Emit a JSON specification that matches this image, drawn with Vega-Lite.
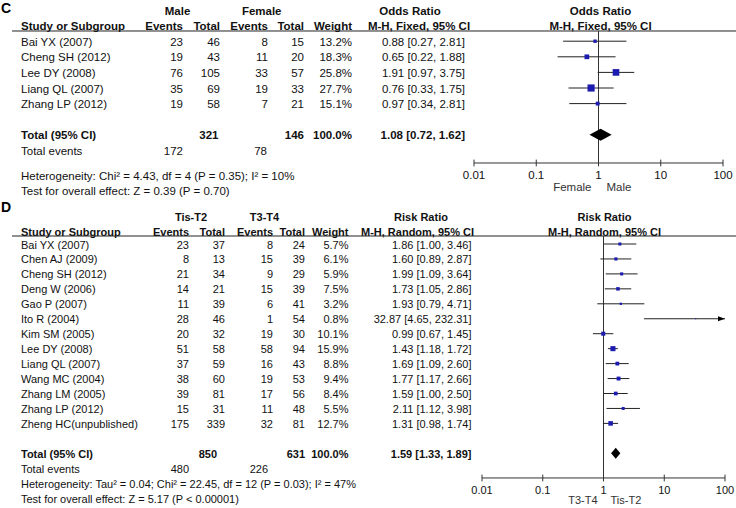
{
"$schema":"https://vega.github.io/schema/vega-lite/v6.json",
"width":736,"height":508,"padding":0,"autosize":{"type":"none"},
"background":"white",
"config":{"view":{"stroke":null},"text":{"font":"Liberation Sans","fontSize":11.5,"color":"#111111","baseline":"middle","dy":1.5},"rule":{"color":"#333333","strokeWidth":1}},
"datasets":{
"ticks":[{"v":0.01,"label":"0.01"},{"v":0.1,"label":"0.1"},{"v":1,"label":"1"},{"v":10,"label":"10"},{"v":100,"label":"100"}],
"blank":[{"k":1}],
"c_head":[{"text":"Male","col":3,"line":0},{"text":"Female","col":7,"line":0},{"text":"Odds Ratio","col":12,"line":0},{"text":"Study or Subgroup","col":2,"line":1},{"text":"Events","col":4,"line":1},{"text":"Total","col":6,"line":1},{"text":"Events","col":9,"line":1},{"text":"Total","col":10,"line":1},{"text":"Weight","col":11,"line":1},{"text":"M-H, Fixed, 95% CI","col":13,"line":1}],
"c_fhead":[{"text":"Odds Ratio","line":0},{"text":"M-H, Fixed, 95% CI","line":1}],
"c_rows":[
{"study":"Bai YX (2007)","line":2,"e1":23,"t1":46,"e2":8,"t2":15,"w":0.132,"est":0.88,"lo":0.27,"hi":2.81,"ci":"0.88 [0.27, 2.81]"},
{"study":"Cheng SH (2012)","line":3,"e1":19,"t1":43,"e2":11,"t2":20,"w":0.183,"est":0.65,"lo":0.22,"hi":1.88,"ci":"0.65 [0.22, 1.88]"},
{"study":"Lee DY (2008)","line":4,"e1":76,"t1":105,"e2":33,"t2":57,"w":0.258,"est":1.91,"lo":0.97,"hi":3.75,"ci":"1.91 [0.97, 3.75]"},
{"study":"Liang QL (2007)","line":5,"e1":35,"t1":69,"e2":19,"t2":33,"w":0.277,"est":0.76,"lo":0.33,"hi":1.75,"ci":"0.76 [0.33, 1.75]"},
{"study":"Zhang LP (2012)","line":6,"e1":19,"t1":58,"e2":7,"t2":21,"w":0.151,"est":0.97,"lo":0.34,"hi":2.81,"ci":"0.97 [0.34, 2.81]"}],
"c_total":[{"label":"Total (95% CI)","line":8,"t1":321,"t2":146,"w":1,"est":1.08,"lo":0.72,"hi":1.62,"ci":"1.08 [0.72, 1.62]"}],
"c_events":[{"label":"Total events","line":9,"ev1":172,"ev2":78}],
"c_notes":[{"text":"Heterogeneity: Chi² = 4.43, df = 4 (P = 0.35); I² = 10%","line":10},{"text":"Test for overall effect: Z = 0.39 (P = 0.70)","line":11}],
"d_head":[{"text":"Tis-T2","col":3,"line":0},{"text":"T3-T4","col":7,"line":0},{"text":"Risk Ratio","col":12,"line":0},{"text":"Study or Subgroup","col":2,"line":1},{"text":"Events","col":4,"line":1},{"text":"Total","col":6,"line":1},{"text":"Events","col":9,"line":1},{"text":"Total","col":10,"line":1},{"text":"Weight","col":11,"line":1},{"text":"M-H, Random, 95% CI","col":13,"line":1}],
"d_fhead":[{"text":"Risk Ratio","line":0},{"text":"M-H, Random, 95% CI","line":1}],
"d_rows":[
{"study":"Bai YX (2007)","line":2,"e1":23,"t1":37,"e2":8,"t2":24,"w":0.057,"est":1.86,"lo":1.00,"hi":3.46,"ci":"1.86 [1.00, 3.46]"},
{"study":"Chen AJ (2009)","line":3,"e1":8,"t1":13,"e2":15,"t2":39,"w":0.061,"est":1.60,"lo":0.89,"hi":2.87,"ci":"1.60 [0.89, 2.87]"},
{"study":"Cheng SH (2012)","line":4,"e1":21,"t1":34,"e2":9,"t2":29,"w":0.059,"est":1.99,"lo":1.09,"hi":3.64,"ci":"1.99 [1.09, 3.64]"},
{"study":"Deng W (2006)","line":5,"e1":14,"t1":21,"e2":15,"t2":39,"w":0.075,"est":1.73,"lo":1.05,"hi":2.86,"ci":"1.73 [1.05, 2.86]"},
{"study":"Gao P (2007)","line":6,"e1":11,"t1":39,"e2":6,"t2":41,"w":0.032,"est":1.93,"lo":0.79,"hi":4.71,"ci":"1.93 [0.79, 4.71]"},
{"study":"Ito R (2004)","line":7,"e1":28,"t1":46,"e2":1,"t2":54,"w":0.008,"est":32.87,"lo":4.65,"hi":232.31,"ci":"32.87 [4.65, 232.31]"},
{"study":"Kim SM (2005)","line":8,"e1":20,"t1":32,"e2":19,"t2":30,"w":0.101,"est":0.99,"lo":0.67,"hi":1.45,"ci":"0.99 [0.67, 1.45]"},
{"study":"Lee DY (2008)","line":9,"e1":51,"t1":58,"e2":58,"t2":94,"w":0.159,"est":1.43,"lo":1.18,"hi":1.72,"ci":"1.43 [1.18, 1.72]"},
{"study":"Liang QL (2007)","line":10,"e1":37,"t1":59,"e2":16,"t2":43,"w":0.088,"est":1.69,"lo":1.09,"hi":2.60,"ci":"1.69 [1.09, 2.60]"},
{"study":"Wang MC (2004)","line":11,"e1":38,"t1":60,"e2":19,"t2":53,"w":0.094,"est":1.77,"lo":1.17,"hi":2.66,"ci":"1.77 [1.17, 2.66]"},
{"study":"Zhang LM (2005)","line":12,"e1":39,"t1":81,"e2":17,"t2":56,"w":0.084,"est":1.59,"lo":1.00,"hi":2.50,"ci":"1.59 [1.00, 2.50]"},
{"study":"Zhang LP (2012)","line":13,"e1":15,"t1":31,"e2":11,"t2":48,"w":0.055,"est":2.11,"lo":1.12,"hi":3.98,"ci":"2.11 [1.12, 3.98]"},
{"study":"Zheng HC(unpublished)","line":14,"e1":175,"t1":339,"e2":32,"t2":81,"w":0.127,"est":1.31,"lo":0.98,"hi":1.74,"ci":"1.31 [0.98, 1.74]"}],
"d_total":[{"label":"Total (95% CI)","line":16,"t1":850,"t2":631,"w":1,"est":1.59,"lo":1.33,"hi":1.89,"ci":"1.59 [1.33, 1.89]"}],
"d_events":[{"label":"Total events","line":17,"ev1":480,"ev2":226}],
"d_notes":[{"text":"Heterogeneity: Tau² = 0.04; Chi² = 22.45, df = 12 (P = 0.03); I² = 47%","line":18},{"text":"Test for overall effect: Z = 5.17 (P < 0.00001)","line":19}]
},
"resolve":{"scale":{"x":"independent","y":"independent","size":"independent"}},
"layer":[
{"layer":[
{"data":{"values":[{"t":"C"}]},"mark":{"type":"text","align":"left","fontSize":14,"fontWeight":"bold","color":"#000"},"encoding":{"text":{"field":"t","type":"nominal"},"x":{"datum":0,"type":"quantitative","scale":{"domain":[0,1,2,3,4,5,6,7,8,9,10,11,12,13,14,15],"range":[1,12,21,177.5,183,218.5,220,261.7,267,268,304,352,410,419,465,736],"zero":false,"nice":false},"axis":null},"y":{"datum":-0.13,"type":"quantitative","scale":{"domain":[0,9,10,12],"range":[10,150.4,175,206.4],"zero":false,"nice":false},"axis":null}}},
{"data":{"name":"c_head"},"transform":[{"filter":"datum.col == 2"}],"mark":{"type":"text","align":"left","fontWeight":"bold"},"encoding":{"text":{"field":"text","type":"nominal"},"x":{"field":"col","type":"quantitative","scale":{"domain":[0,1,2,3,4,5,6,7,8,9,10,11,12,13,14,15],"range":[1,12,21,177.5,183,218.5,220,261.7,267,268,304,352,410,419,465,736],"zero":false,"nice":false},"axis":null},"y":{"field":"line","type":"quantitative","scale":{"domain":[0,9,10,12],"range":[10,150.4,175,206.4],"zero":false,"nice":false},"axis":null}}},
{"data":{"name":"c_head"},"transform":[{"filter":"datum.col == 3 || datum.col == 7 || datum.col >= 12"}],"mark":{"type":"text","align":"center","fontWeight":"bold"},"encoding":{"text":{"field":"text","type":"nominal"},"x":{"field":"col","type":"quantitative","scale":{"domain":[0,1,2,3,4,5,6,7,8,9,10,11,12,13,14,15],"range":[1,12,21,177.5,183,218.5,220,261.7,267,268,304,352,410,419,465,736],"zero":false,"nice":false},"axis":null},"y":{"field":"line","type":"quantitative","scale":{"domain":[0,9,10,12],"range":[10,150.4,175,206.4],"zero":false,"nice":false},"axis":null}}},
{"data":{"name":"c_head"},"transform":[{"filter":"datum.col == 4 || datum.col == 6 || (datum.col >= 9 && datum.col <= 11)"}],"mark":{"type":"text","align":"right","fontWeight":"bold"},"encoding":{"text":{"field":"text","type":"nominal"},"x":{"field":"col","type":"quantitative","scale":{"domain":[0,1,2,3,4,5,6,7,8,9,10,11,12,13,14,15],"range":[1,12,21,177.5,183,218.5,220,261.7,267,268,304,352,410,419,465,736],"zero":false,"nice":false},"axis":null},"y":{"field":"line","type":"quantitative","scale":{"domain":[0,9,10,12],"range":[10,150.4,175,206.4],"zero":false,"nice":false},"axis":null}}},
{"data":{"name":"c_rows"},"mark":{"type":"text","align":"left"},"encoding":{"text":{"field":"study","type":"nominal"},"x":{"datum":2,"type":"quantitative","scale":{"domain":[0,1,2,3,4,5,6,7,8,9,10,11,12,13,14,15],"range":[1,12,21,177.5,183,218.5,220,261.7,267,268,304,352,410,419,465,736],"zero":false,"nice":false},"axis":null},"y":{"field":"line","type":"quantitative","scale":{"domain":[0,9,10,12],"range":[10,150.4,175,206.4],"zero":false,"nice":false},"axis":null}}},
{"data":{"name":"c_rows"},"mark":{"type":"text","align":"right"},"encoding":{"text":{"field":"e1","type":"quantitative","format":"d"},"x":{"datum":4,"type":"quantitative","scale":{"domain":[0,1,2,3,4,5,6,7,8,9,10,11,12,13,14,15],"range":[1,12,21,177.5,183,218.5,220,261.7,267,268,304,352,410,419,465,736],"zero":false,"nice":false},"axis":null},"y":{"field":"line","type":"quantitative","scale":{"domain":[0,9,10,12],"range":[10,150.4,175,206.4],"zero":false,"nice":false},"axis":null}}},
{"data":{"name":"c_rows"},"mark":{"type":"text","align":"right"},"encoding":{"text":{"field":"t1","type":"quantitative","format":"d"},"x":{"datum":6,"type":"quantitative","scale":{"domain":[0,1,2,3,4,5,6,7,8,9,10,11,12,13,14,15],"range":[1,12,21,177.5,183,218.5,220,261.7,267,268,304,352,410,419,465,736],"zero":false,"nice":false},"axis":null},"y":{"field":"line","type":"quantitative","scale":{"domain":[0,9,10,12],"range":[10,150.4,175,206.4],"zero":false,"nice":false},"axis":null}}},
{"data":{"name":"c_rows"},"mark":{"type":"text","align":"right"},"encoding":{"text":{"field":"e2","type":"quantitative","format":"d"},"x":{"datum":9,"type":"quantitative","scale":{"domain":[0,1,2,3,4,5,6,7,8,9,10,11,12,13,14,15],"range":[1,12,21,177.5,183,218.5,220,261.7,267,268,304,352,410,419,465,736],"zero":false,"nice":false},"axis":null},"y":{"field":"line","type":"quantitative","scale":{"domain":[0,9,10,12],"range":[10,150.4,175,206.4],"zero":false,"nice":false},"axis":null}}},
{"data":{"name":"c_rows"},"mark":{"type":"text","align":"right"},"encoding":{"text":{"field":"t2","type":"quantitative","format":"d"},"x":{"datum":10,"type":"quantitative","scale":{"domain":[0,1,2,3,4,5,6,7,8,9,10,11,12,13,14,15],"range":[1,12,21,177.5,183,218.5,220,261.7,267,268,304,352,410,419,465,736],"zero":false,"nice":false},"axis":null},"y":{"field":"line","type":"quantitative","scale":{"domain":[0,9,10,12],"range":[10,150.4,175,206.4],"zero":false,"nice":false},"axis":null}}},
{"data":{"name":"c_rows"},"mark":{"type":"text","align":"right"},"encoding":{"text":{"field":"w","type":"quantitative","format":".1%"},"x":{"datum":11,"type":"quantitative","scale":{"domain":[0,1,2,3,4,5,6,7,8,9,10,11,12,13,14,15],"range":[1,12,21,177.5,183,218.5,220,261.7,267,268,304,352,410,419,465,736],"zero":false,"nice":false},"axis":null},"y":{"field":"line","type":"quantitative","scale":{"domain":[0,9,10,12],"range":[10,150.4,175,206.4],"zero":false,"nice":false},"axis":null}}},
{"data":{"name":"c_rows"},"mark":{"type":"text","align":"right"},"encoding":{"text":{"field":"ci","type":"nominal"},"x":{"datum":14,"type":"quantitative","scale":{"domain":[0,1,2,3,4,5,6,7,8,9,10,11,12,13,14,15],"range":[1,12,21,177.5,183,218.5,220,261.7,267,268,304,352,410,419,465,736],"zero":false,"nice":false},"axis":null},"y":{"field":"line","type":"quantitative","scale":{"domain":[0,9,10,12],"range":[10,150.4,175,206.4],"zero":false,"nice":false},"axis":null}}},
{"data":{"name":"c_total"},"mark":{"type":"text","align":"left","fontWeight":"bold"},"encoding":{"text":{"field":"label","type":"nominal"},"x":{"datum":2,"type":"quantitative","scale":{"domain":[0,1,2,3,4,5,6,7,8,9,10,11,12,13,14,15],"range":[1,12,21,177.5,183,218.5,220,261.7,267,268,304,352,410,419,465,736],"zero":false,"nice":false},"axis":null},"y":{"field":"line","type":"quantitative","scale":{"domain":[0,9,10,12],"range":[10,150.4,175,206.4],"zero":false,"nice":false},"axis":null}}},
{"data":{"name":"c_total"},"mark":{"type":"text","align":"right","fontWeight":"bold"},"encoding":{"text":{"field":"t1","type":"quantitative","format":"d"},"x":{"datum":5,"type":"quantitative","scale":{"domain":[0,1,2,3,4,5,6,7,8,9,10,11,12,13,14,15],"range":[1,12,21,177.5,183,218.5,220,261.7,267,268,304,352,410,419,465,736],"zero":false,"nice":false},"axis":null},"y":{"field":"line","type":"quantitative","scale":{"domain":[0,9,10,12],"range":[10,150.4,175,206.4],"zero":false,"nice":false},"axis":null}}},
{"data":{"name":"c_total"},"mark":{"type":"text","align":"right","fontWeight":"bold"},"encoding":{"text":{"field":"t2","type":"quantitative","format":"d"},"x":{"datum":10,"type":"quantitative","scale":{"domain":[0,1,2,3,4,5,6,7,8,9,10,11,12,13,14,15],"range":[1,12,21,177.5,183,218.5,220,261.7,267,268,304,352,410,419,465,736],"zero":false,"nice":false},"axis":null},"y":{"field":"line","type":"quantitative","scale":{"domain":[0,9,10,12],"range":[10,150.4,175,206.4],"zero":false,"nice":false},"axis":null}}},
{"data":{"name":"c_total"},"mark":{"type":"text","align":"right","fontWeight":"bold"},"encoding":{"text":{"field":"w","type":"quantitative","format":".1%"},"x":{"datum":11,"type":"quantitative","scale":{"domain":[0,1,2,3,4,5,6,7,8,9,10,11,12,13,14,15],"range":[1,12,21,177.5,183,218.5,220,261.7,267,268,304,352,410,419,465,736],"zero":false,"nice":false},"axis":null},"y":{"field":"line","type":"quantitative","scale":{"domain":[0,9,10,12],"range":[10,150.4,175,206.4],"zero":false,"nice":false},"axis":null}}},
{"data":{"name":"c_total"},"mark":{"type":"text","align":"right","fontWeight":"bold"},"encoding":{"text":{"field":"ci","type":"nominal"},"x":{"datum":14,"type":"quantitative","scale":{"domain":[0,1,2,3,4,5,6,7,8,9,10,11,12,13,14,15],"range":[1,12,21,177.5,183,218.5,220,261.7,267,268,304,352,410,419,465,736],"zero":false,"nice":false},"axis":null},"y":{"field":"line","type":"quantitative","scale":{"domain":[0,9,10,12],"range":[10,150.4,175,206.4],"zero":false,"nice":false},"axis":null}}},
{"data":{"name":"c_events"},"mark":{"type":"text","align":"left"},"encoding":{"text":{"field":"label","type":"nominal"},"x":{"datum":2,"type":"quantitative","scale":{"domain":[0,1,2,3,4,5,6,7,8,9,10,11,12,13,14,15],"range":[1,12,21,177.5,183,218.5,220,261.7,267,268,304,352,410,419,465,736],"zero":false,"nice":false},"axis":null},"y":{"field":"line","type":"quantitative","scale":{"domain":[0,9,10,12],"range":[10,150.4,175,206.4],"zero":false,"nice":false},"axis":null}}},
{"data":{"name":"c_events"},"mark":{"type":"text","align":"right"},"encoding":{"text":{"field":"ev1","type":"quantitative","format":"d"},"x":{"datum":4,"type":"quantitative","scale":{"domain":[0,1,2,3,4,5,6,7,8,9,10,11,12,13,14,15],"range":[1,12,21,177.5,183,218.5,220,261.7,267,268,304,352,410,419,465,736],"zero":false,"nice":false},"axis":null},"y":{"field":"line","type":"quantitative","scale":{"domain":[0,9,10,12],"range":[10,150.4,175,206.4],"zero":false,"nice":false},"axis":null}}},
{"data":{"name":"c_events"},"mark":{"type":"text","align":"right"},"encoding":{"text":{"field":"ev2","type":"quantitative","format":"d"},"x":{"datum":8,"type":"quantitative","scale":{"domain":[0,1,2,3,4,5,6,7,8,9,10,11,12,13,14,15],"range":[1,12,21,177.5,183,218.5,220,261.7,267,268,304,352,410,419,465,736],"zero":false,"nice":false},"axis":null},"y":{"field":"line","type":"quantitative","scale":{"domain":[0,9,10,12],"range":[10,150.4,175,206.4],"zero":false,"nice":false},"axis":null}}},
{"data":{"name":"c_notes"},"mark":{"type":"text","align":"left"},"encoding":{"text":{"field":"text","type":"nominal"},"x":{"datum":2,"type":"quantitative","scale":{"domain":[0,1,2,3,4,5,6,7,8,9,10,11,12,13,14,15],"range":[1,12,21,177.5,183,218.5,220,261.7,267,268,304,352,410,419,465,736],"zero":false,"nice":false},"axis":null},"y":{"field":"line","type":"quantitative","scale":{"domain":[0,9,10,12],"range":[10,150.4,175,206.4],"zero":false,"nice":false},"axis":null}}},
{"data":{"name":"blank"},"mark":{"type":"rule","color":"#222"},"encoding":{"x":{"datum":1,"type":"quantitative","scale":{"domain":[0,1,2,3,4,5,6,7,8,9,10,11,12,13,14,15],"range":[1,12,21,177.5,183,218.5,220,261.7,267,268,304,352,410,419,465,736],"zero":false,"nice":false},"axis":null},"x2":{"datum":15},"y":{"datum":1.346,"type":"quantitative","scale":{"domain":[0,9,10,12],"range":[10,150.4,175,206.4],"zero":false,"nice":false},"axis":null}}}
]},
{"layer":[
{"data":{"name":"blank"},"mark":{"type":"rule","color":"#333"},"encoding":{"x":{"datum":1,"type":"quantitative","scale":{"type":"log","domain":[0.01,100],"range":[474,723],"clamp":true,"nice":false},"axis":null},"y":{"datum":1.346,"type":"quantitative","scale":{"domain":[0,9,10,12],"range":[10,150.4,175,206.4],"zero":false,"nice":false},"axis":null},"y2":{"datum":9.512}}},
{"data":{"name":"c_rows"},"mark":{"type":"rule","color":"#222"},"encoding":{"x":{"field":"lo","type":"quantitative","scale":{"type":"log","domain":[0.01,100],"range":[474,723],"clamp":true,"nice":false},"axis":null},"x2":{"field":"hi"},"y":{"field":"line","type":"quantitative","scale":{"domain":[0,9,10,12],"range":[10,150.4,175,206.4],"zero":false,"nice":false},"axis":null}}},
{"data":{"name":"c_rows"},"mark":{"type":"point","shape":"square","filled":true,"color":"#1c1cb0","opacity":1},"encoding":{"x":{"field":"est","type":"quantitative","scale":{"type":"log","domain":[0.01,100],"range":[474,723],"clamp":true,"nice":false},"axis":null},"y":{"field":"line","type":"quantitative","scale":{"domain":[0,9,10,12],"range":[10,150.4,175,206.4],"zero":false,"nice":false},"axis":null},"size":{"field":"w","type":"quantitative","scale":{"type":"pow","exponent":2,"domain":[0,0.3],"range":[0,60]},"legend":null}}},
{"data":{"name":"c_total"},"mark":{"type":"point","shape":"M-1,0L0,-0.54L1,0L0,0.54Z","filled":true,"color":"#000","opacity":1,"size":493},"encoding":{"x":{"field":"est","type":"quantitative","scale":{"type":"log","domain":[0.01,100],"range":[474,723],"clamp":true,"nice":false},"axis":null},"y":{"field":"line","type":"quantitative","scale":{"domain":[0,9,10,12],"range":[10,150.4,175,206.4],"zero":false,"nice":false},"axis":null}}},
{"data":{"name":"blank"},"mark":{"type":"rule","color":"#333"},"encoding":{"x":{"datum":0.01,"type":"quantitative","scale":{"type":"log","domain":[0.01,100],"range":[474,723],"clamp":true,"nice":false},"axis":null},"x2":{"datum":100},"y":{"datum":9.512,"type":"quantitative","scale":{"domain":[0,9,10,12],"range":[10,150.4,175,206.4],"zero":false,"nice":false},"axis":null}}},
{"data":{"name":"ticks"},"mark":{"type":"rule","color":"#333"},"encoding":{"x":{"field":"v","type":"quantitative","scale":{"type":"log","domain":[0.01,100],"range":[474,723],"clamp":true,"nice":false},"axis":null},"y":{"datum":9.374,"type":"quantitative","scale":{"domain":[0,9,10,12],"range":[10,150.4,175,206.4],"zero":false,"nice":false},"axis":null},"y2":{"datum":9.65}}},
{"data":{"name":"ticks"},"mark":{"type":"text","align":"center"},"encoding":{"text":{"field":"label","type":"nominal"},"x":{"field":"v","type":"quantitative","scale":{"type":"log","domain":[0.01,100],"range":[474,723],"clamp":true,"nice":false},"axis":null},"y":{"datum":9.98,"type":"quantitative","scale":{"domain":[0,9,10,12],"range":[10,150.4,175,206.4],"zero":false,"nice":false},"axis":null}}},
{"data":{"name":"blank"},"mark":{"type":"text","align":"right","dx":-7,"text":"Female","color":"#333"},"encoding":{"x":{"datum":1,"type":"quantitative","scale":{"type":"log","domain":[0.01,100],"range":[474,723],"clamp":true,"nice":false},"axis":null},"y":{"datum":10.745,"type":"quantitative","scale":{"domain":[0,9,10,12],"range":[10,150.4,175,206.4],"zero":false,"nice":false},"axis":null}}},
{"data":{"name":"blank"},"mark":{"type":"text","align":"left","dx":8,"text":"Male","color":"#333"},"encoding":{"x":{"datum":1,"type":"quantitative","scale":{"type":"log","domain":[0.01,100],"range":[474,723],"clamp":true,"nice":false},"axis":null},"y":{"datum":10.745,"type":"quantitative","scale":{"domain":[0,9,10,12],"range":[10,150.4,175,206.4],"zero":false,"nice":false},"axis":null}}},
{"data":{"name":"c_fhead"},"mark":{"type":"text","align":"center","dx":2,"fontWeight":"bold"},"encoding":{"text":{"field":"text","type":"nominal"},"x":{"datum":1,"type":"quantitative","scale":{"type":"log","domain":[0.01,100],"range":[474,723],"clamp":true,"nice":false},"axis":null},"y":{"field":"line","type":"quantitative","scale":{"domain":[0,9,10,12],"range":[10,150.4,175,206.4],"zero":false,"nice":false},"axis":null}}}
]},
{"layer":[
{"data":{"values":[{"t":"D"}]},"mark":{"type":"text","align":"left","fontSize":14,"fontWeight":"bold","color":"#000"},"encoding":{"text":{"field":"t","type":"nominal"},"x":{"datum":0,"type":"quantitative","scale":{"domain":[0,1,2,3,4,5,6,7,8,9,10,11,12,13,14,15],"range":[1,12,21,191,189,217,225,264.5,268,273,305,348.5,421,417.5,471.5,736],"zero":false,"nice":false},"axis":null},"y":{"datum":-0.645,"type":"quantitative","scale":{"domain":[0,1,2,19],"range":[216,231.5,244,498.15],"zero":false,"nice":false},"axis":null}}},
{"data":{"name":"d_head"},"transform":[{"filter":"datum.col == 2"}],"mark":{"type":"text","align":"left","fontWeight":"bold","fontSize":11},"encoding":{"text":{"field":"text","type":"nominal"},"x":{"field":"col","type":"quantitative","scale":{"domain":[0,1,2,3,4,5,6,7,8,9,10,11,12,13,14,15],"range":[1,12,21,191,189,217,225,264.5,268,273,305,348.5,421,417.5,471.5,736],"zero":false,"nice":false},"axis":null},"y":{"field":"line","type":"quantitative","scale":{"domain":[0,1,2,19],"range":[216,231.5,244,498.15],"zero":false,"nice":false},"axis":null}}},
{"data":{"name":"d_head"},"transform":[{"filter":"datum.col == 3 || datum.col == 7 || datum.col >= 12"}],"mark":{"type":"text","align":"center","fontWeight":"bold","fontSize":11},"encoding":{"text":{"field":"text","type":"nominal"},"x":{"field":"col","type":"quantitative","scale":{"domain":[0,1,2,3,4,5,6,7,8,9,10,11,12,13,14,15],"range":[1,12,21,191,189,217,225,264.5,268,273,305,348.5,421,417.5,471.5,736],"zero":false,"nice":false},"axis":null},"y":{"field":"line","type":"quantitative","scale":{"domain":[0,1,2,19],"range":[216,231.5,244,498.15],"zero":false,"nice":false},"axis":null}}},
{"data":{"name":"d_head"},"transform":[{"filter":"datum.col == 4 || datum.col == 6 || (datum.col >= 9 && datum.col <= 11)"}],"mark":{"type":"text","align":"right","fontWeight":"bold","fontSize":11},"encoding":{"text":{"field":"text","type":"nominal"},"x":{"field":"col","type":"quantitative","scale":{"domain":[0,1,2,3,4,5,6,7,8,9,10,11,12,13,14,15],"range":[1,12,21,191,189,217,225,264.5,268,273,305,348.5,421,417.5,471.5,736],"zero":false,"nice":false},"axis":null},"y":{"field":"line","type":"quantitative","scale":{"domain":[0,1,2,19],"range":[216,231.5,244,498.15],"zero":false,"nice":false},"axis":null}}},
{"data":{"name":"d_rows"},"mark":{"type":"text","align":"left","fontSize":11},"encoding":{"text":{"field":"study","type":"nominal"},"x":{"datum":2,"type":"quantitative","scale":{"domain":[0,1,2,3,4,5,6,7,8,9,10,11,12,13,14,15],"range":[1,12,21,191,189,217,225,264.5,268,273,305,348.5,421,417.5,471.5,736],"zero":false,"nice":false},"axis":null},"y":{"field":"line","type":"quantitative","scale":{"domain":[0,1,2,19],"range":[216,231.5,244,498.15],"zero":false,"nice":false},"axis":null}}},
{"data":{"name":"d_rows"},"mark":{"type":"text","align":"right","fontSize":11},"encoding":{"text":{"field":"e1","type":"quantitative","format":"d"},"x":{"datum":4,"type":"quantitative","scale":{"domain":[0,1,2,3,4,5,6,7,8,9,10,11,12,13,14,15],"range":[1,12,21,191,189,217,225,264.5,268,273,305,348.5,421,417.5,471.5,736],"zero":false,"nice":false},"axis":null},"y":{"field":"line","type":"quantitative","scale":{"domain":[0,1,2,19],"range":[216,231.5,244,498.15],"zero":false,"nice":false},"axis":null}}},
{"data":{"name":"d_rows"},"mark":{"type":"text","align":"right","fontSize":11},"encoding":{"text":{"field":"t1","type":"quantitative","format":"d"},"x":{"datum":6,"type":"quantitative","scale":{"domain":[0,1,2,3,4,5,6,7,8,9,10,11,12,13,14,15],"range":[1,12,21,191,189,217,225,264.5,268,273,305,348.5,421,417.5,471.5,736],"zero":false,"nice":false},"axis":null},"y":{"field":"line","type":"quantitative","scale":{"domain":[0,1,2,19],"range":[216,231.5,244,498.15],"zero":false,"nice":false},"axis":null}}},
{"data":{"name":"d_rows"},"mark":{"type":"text","align":"right","fontSize":11},"encoding":{"text":{"field":"e2","type":"quantitative","format":"d"},"x":{"datum":9,"type":"quantitative","scale":{"domain":[0,1,2,3,4,5,6,7,8,9,10,11,12,13,14,15],"range":[1,12,21,191,189,217,225,264.5,268,273,305,348.5,421,417.5,471.5,736],"zero":false,"nice":false},"axis":null},"y":{"field":"line","type":"quantitative","scale":{"domain":[0,1,2,19],"range":[216,231.5,244,498.15],"zero":false,"nice":false},"axis":null}}},
{"data":{"name":"d_rows"},"mark":{"type":"text","align":"right","fontSize":11},"encoding":{"text":{"field":"t2","type":"quantitative","format":"d"},"x":{"datum":10,"type":"quantitative","scale":{"domain":[0,1,2,3,4,5,6,7,8,9,10,11,12,13,14,15],"range":[1,12,21,191,189,217,225,264.5,268,273,305,348.5,421,417.5,471.5,736],"zero":false,"nice":false},"axis":null},"y":{"field":"line","type":"quantitative","scale":{"domain":[0,1,2,19],"range":[216,231.5,244,498.15],"zero":false,"nice":false},"axis":null}}},
{"data":{"name":"d_rows"},"mark":{"type":"text","align":"right","fontSize":11},"encoding":{"text":{"field":"w","type":"quantitative","format":".1%"},"x":{"datum":11,"type":"quantitative","scale":{"domain":[0,1,2,3,4,5,6,7,8,9,10,11,12,13,14,15],"range":[1,12,21,191,189,217,225,264.5,268,273,305,348.5,421,417.5,471.5,736],"zero":false,"nice":false},"axis":null},"y":{"field":"line","type":"quantitative","scale":{"domain":[0,1,2,19],"range":[216,231.5,244,498.15],"zero":false,"nice":false},"axis":null}}},
{"data":{"name":"d_rows"},"mark":{"type":"text","align":"right","fontSize":11},"encoding":{"text":{"field":"ci","type":"nominal"},"x":{"datum":14,"type":"quantitative","scale":{"domain":[0,1,2,3,4,5,6,7,8,9,10,11,12,13,14,15],"range":[1,12,21,191,189,217,225,264.5,268,273,305,348.5,421,417.5,471.5,736],"zero":false,"nice":false},"axis":null},"y":{"field":"line","type":"quantitative","scale":{"domain":[0,1,2,19],"range":[216,231.5,244,498.15],"zero":false,"nice":false},"axis":null}}},
{"data":{"name":"d_total"},"mark":{"type":"text","align":"left","fontWeight":"bold","fontSize":11},"encoding":{"text":{"field":"label","type":"nominal"},"x":{"datum":2,"type":"quantitative","scale":{"domain":[0,1,2,3,4,5,6,7,8,9,10,11,12,13,14,15],"range":[1,12,21,191,189,217,225,264.5,268,273,305,348.5,421,417.5,471.5,736],"zero":false,"nice":false},"axis":null},"y":{"field":"line","type":"quantitative","scale":{"domain":[0,1,2,19],"range":[216,231.5,244,498.15],"zero":false,"nice":false},"axis":null}}},
{"data":{"name":"d_total"},"mark":{"type":"text","align":"right","fontWeight":"bold","fontSize":11},"encoding":{"text":{"field":"t1","type":"quantitative","format":"d"},"x":{"datum":5,"type":"quantitative","scale":{"domain":[0,1,2,3,4,5,6,7,8,9,10,11,12,13,14,15],"range":[1,12,21,191,189,217,225,264.5,268,273,305,348.5,421,417.5,471.5,736],"zero":false,"nice":false},"axis":null},"y":{"field":"line","type":"quantitative","scale":{"domain":[0,1,2,19],"range":[216,231.5,244,498.15],"zero":false,"nice":false},"axis":null}}},
{"data":{"name":"d_total"},"mark":{"type":"text","align":"right","fontWeight":"bold","fontSize":11},"encoding":{"text":{"field":"t2","type":"quantitative","format":"d"},"x":{"datum":10,"type":"quantitative","scale":{"domain":[0,1,2,3,4,5,6,7,8,9,10,11,12,13,14,15],"range":[1,12,21,191,189,217,225,264.5,268,273,305,348.5,421,417.5,471.5,736],"zero":false,"nice":false},"axis":null},"y":{"field":"line","type":"quantitative","scale":{"domain":[0,1,2,19],"range":[216,231.5,244,498.15],"zero":false,"nice":false},"axis":null}}},
{"data":{"name":"d_total"},"mark":{"type":"text","align":"right","fontWeight":"bold","fontSize":11},"encoding":{"text":{"field":"w","type":"quantitative","format":".1%"},"x":{"datum":11,"type":"quantitative","scale":{"domain":[0,1,2,3,4,5,6,7,8,9,10,11,12,13,14,15],"range":[1,12,21,191,189,217,225,264.5,268,273,305,348.5,421,417.5,471.5,736],"zero":false,"nice":false},"axis":null},"y":{"field":"line","type":"quantitative","scale":{"domain":[0,1,2,19],"range":[216,231.5,244,498.15],"zero":false,"nice":false},"axis":null}}},
{"data":{"name":"d_total"},"mark":{"type":"text","align":"right","fontWeight":"bold","fontSize":11},"encoding":{"text":{"field":"ci","type":"nominal"},"x":{"datum":14,"type":"quantitative","scale":{"domain":[0,1,2,3,4,5,6,7,8,9,10,11,12,13,14,15],"range":[1,12,21,191,189,217,225,264.5,268,273,305,348.5,421,417.5,471.5,736],"zero":false,"nice":false},"axis":null},"y":{"field":"line","type":"quantitative","scale":{"domain":[0,1,2,19],"range":[216,231.5,244,498.15],"zero":false,"nice":false},"axis":null}}},
{"data":{"name":"d_events"},"mark":{"type":"text","align":"left","fontSize":11},"encoding":{"text":{"field":"label","type":"nominal"},"x":{"datum":2,"type":"quantitative","scale":{"domain":[0,1,2,3,4,5,6,7,8,9,10,11,12,13,14,15],"range":[1,12,21,191,189,217,225,264.5,268,273,305,348.5,421,417.5,471.5,736],"zero":false,"nice":false},"axis":null},"y":{"field":"line","type":"quantitative","scale":{"domain":[0,1,2,19],"range":[216,231.5,244,498.15],"zero":false,"nice":false},"axis":null}}},
{"data":{"name":"d_events"},"mark":{"type":"text","align":"right","fontSize":11},"encoding":{"text":{"field":"ev1","type":"quantitative","format":"d"},"x":{"datum":4,"type":"quantitative","scale":{"domain":[0,1,2,3,4,5,6,7,8,9,10,11,12,13,14,15],"range":[1,12,21,191,189,217,225,264.5,268,273,305,348.5,421,417.5,471.5,736],"zero":false,"nice":false},"axis":null},"y":{"field":"line","type":"quantitative","scale":{"domain":[0,1,2,19],"range":[216,231.5,244,498.15],"zero":false,"nice":false},"axis":null}}},
{"data":{"name":"d_events"},"mark":{"type":"text","align":"right","fontSize":11},"encoding":{"text":{"field":"ev2","type":"quantitative","format":"d"},"x":{"datum":8,"type":"quantitative","scale":{"domain":[0,1,2,3,4,5,6,7,8,9,10,11,12,13,14,15],"range":[1,12,21,191,189,217,225,264.5,268,273,305,348.5,421,417.5,471.5,736],"zero":false,"nice":false},"axis":null},"y":{"field":"line","type":"quantitative","scale":{"domain":[0,1,2,19],"range":[216,231.5,244,498.15],"zero":false,"nice":false},"axis":null}}},
{"data":{"name":"d_notes"},"mark":{"type":"text","align":"left","fontSize":11},"encoding":{"text":{"field":"text","type":"nominal"},"x":{"datum":2,"type":"quantitative","scale":{"domain":[0,1,2,3,4,5,6,7,8,9,10,11,12,13,14,15],"range":[1,12,21,191,189,217,225,264.5,268,273,305,348.5,421,417.5,471.5,736],"zero":false,"nice":false},"axis":null},"y":{"field":"line","type":"quantitative","scale":{"domain":[0,1,2,19],"range":[216,231.5,244,498.15],"zero":false,"nice":false},"axis":null}}},
{"data":{"name":"blank"},"mark":{"type":"rule","color":"#222"},"encoding":{"x":{"datum":1,"type":"quantitative","scale":{"domain":[0,1,2,3,4,5,6,7,8,9,10,11,12,13,14,15],"range":[1,12,21,191,189,217,225,264.5,268,273,305,348.5,421,417.5,471.5,736],"zero":false,"nice":false},"axis":null},"x2":{"datum":15},"y":{"datum":1.36,"type":"quantitative","scale":{"domain":[0,1,2,19],"range":[216,231.5,244,498.15],"zero":false,"nice":false},"axis":null}}}
]},
{"layer":[
{"data":{"name":"blank"},"mark":{"type":"rule","color":"#333"},"encoding":{"x":{"datum":1,"type":"quantitative","scale":{"type":"log","domain":[0.01,100],"range":[482,725],"clamp":true,"nice":false},"axis":null},"y":{"datum":1.36,"type":"quantitative","scale":{"domain":[0,1,2,19],"range":[216,231.5,244,498.15],"zero":false,"nice":false},"axis":null},"y2":{"datum":17.65}}},
{"data":{"name":"d_rows"},"mark":{"type":"rule","color":"#222"},"encoding":{"x":{"field":"lo","type":"quantitative","scale":{"type":"log","domain":[0.01,100],"range":[482,725],"clamp":true,"nice":false},"axis":null},"x2":{"field":"hi"},"y":{"field":"line","type":"quantitative","scale":{"domain":[0,1,2,19],"range":[216,231.5,244,498.15],"zero":false,"nice":false},"axis":null}}},
{"data":{"name":"d_rows"},"mark":{"type":"point","shape":"square","filled":true,"color":"#1c1cb0","opacity":1},"encoding":{"x":{"field":"est","type":"quantitative","scale":{"type":"log","domain":[0.01,100],"range":[482,725],"clamp":true,"nice":false},"axis":null},"y":{"field":"line","type":"quantitative","scale":{"domain":[0,1,2,19],"range":[216,231.5,244,498.15],"zero":false,"nice":false},"axis":null},"size":{"field":"w","type":"quantitative","scale":{"domain":[0,0.16],"range":[0,26]},"legend":null}}},
{"data":{"name":"d_rows"},"transform":[{"filter":"datum.hi > 100"}],"mark":{"type":"point","shape":"M0,0L-2,-0.7L-2,0.7Z","filled":true,"color":"#000","opacity":1,"size":49},"encoding":{"x":{"field":"hi","type":"quantitative","scale":{"type":"log","domain":[0.01,100],"range":[482,725],"clamp":true,"nice":false},"axis":null},"y":{"field":"line","type":"quantitative","scale":{"domain":[0,1,2,19],"range":[216,231.5,244,498.15],"zero":false,"nice":false},"axis":null}}},
{"data":{"name":"d_total"},"mark":{"type":"point","shape":"M-1,0L0,-1.18L1,0L0,1.18Z","filled":true,"color":"#000","opacity":1,"size":87},"encoding":{"x":{"field":"est","type":"quantitative","scale":{"type":"log","domain":[0.01,100],"range":[482,725],"clamp":true,"nice":false},"axis":null},"y":{"field":"line","type":"quantitative","scale":{"domain":[0,1,2,19],"range":[216,231.5,244,498.15],"zero":false,"nice":false},"axis":null}}},
{"data":{"name":"blank"},"mark":{"type":"rule","color":"#333"},"encoding":{"x":{"datum":0.01,"type":"quantitative","scale":{"type":"log","domain":[0.01,100],"range":[482,725],"clamp":true,"nice":false},"axis":null},"x2":{"datum":100},"y":{"datum":17.65,"type":"quantitative","scale":{"domain":[0,1,2,19],"range":[216,231.5,244,498.15],"zero":false,"nice":false},"axis":null}}},
{"data":{"name":"ticks"},"mark":{"type":"rule","color":"#333"},"encoding":{"x":{"field":"v","type":"quantitative","scale":{"type":"log","domain":[0.01,100],"range":[482,725],"clamp":true,"nice":false},"axis":null},"y":{"datum":17.425,"type":"quantitative","scale":{"domain":[0,1,2,19],"range":[216,231.5,244,498.15],"zero":false,"nice":false},"axis":null},"y2":{"datum":17.88}}},
{"data":{"name":"ticks"},"mark":{"type":"text","align":"center","fontSize":11},"encoding":{"text":{"field":"label","type":"nominal"},"x":{"field":"v","type":"quantitative","scale":{"type":"log","domain":[0.01,100],"range":[482,725],"clamp":true,"nice":false},"axis":null},"y":{"datum":18.39,"type":"quantitative","scale":{"domain":[0,1,2,19],"range":[216,231.5,244,498.15],"zero":false,"nice":false},"axis":null}}},
{"data":{"name":"blank"},"mark":{"type":"text","align":"right","dx":-6,"dy":0,"text":"T3-T4","color":"#333","fontSize":11},"encoding":{"x":{"datum":1,"type":"quantitative","scale":{"type":"log","domain":[0.01,100],"range":[482,725],"clamp":true,"nice":false},"axis":null},"y":{"datum":19.22,"type":"quantitative","scale":{"domain":[0,1,2,19],"range":[216,231.5,244,498.15],"zero":false,"nice":false},"axis":null}}},
{"data":{"name":"blank"},"mark":{"type":"text","align":"left","dx":7,"dy":0,"text":"Tis-T2","color":"#333","fontSize":11},"encoding":{"x":{"datum":1,"type":"quantitative","scale":{"type":"log","domain":[0.01,100],"range":[482,725],"clamp":true,"nice":false},"axis":null},"y":{"datum":19.22,"type":"quantitative","scale":{"domain":[0,1,2,19],"range":[216,231.5,244,498.15],"zero":false,"nice":false},"axis":null}}},
{"data":{"name":"d_fhead"},"mark":{"type":"text","align":"center","dx":1,"fontWeight":"bold","fontSize":11},"encoding":{"text":{"field":"text","type":"nominal"},"x":{"datum":1,"type":"quantitative","scale":{"type":"log","domain":[0.01,100],"range":[482,725],"clamp":true,"nice":false},"axis":null},"y":{"field":"line","type":"quantitative","scale":{"domain":[0,1,2,19],"range":[216,231.5,244,498.15],"zero":false,"nice":false},"axis":null}}}
]}
]
}
